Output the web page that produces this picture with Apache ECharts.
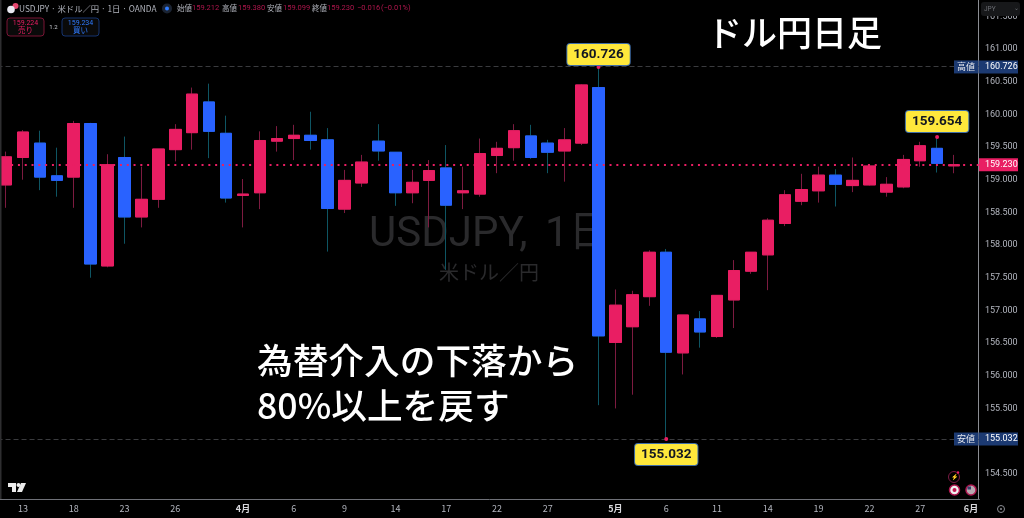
<!DOCTYPE html>
<html>
<head>
<meta charset="utf-8">
<style>
  html, body { margin: 0; padding: 0; background: #000; }
  #main { width: 1024px; height: 518px; }
</style>
<script src="https://cdn.jsdelivr.net/npm/echarts@6/dist/echarts.min.js"></script>
</head>
<body>
<div id="main"></div>
<script>
// one label per daily bar, the last slot has no bar yet
const dayLabels = ['', '13', '', '', '18', '', '', '23', '', '', '26', '', '', '', '4月', '', '', '6', '', '', '9', '', '', '14', '', '', '17', '', '', '22', '', '', '27', '', '', '', '5月', '', '', '6', '', '', '11', '', '', '14', '', '', '19', '', '', '22', '', '', '27', '', '', '6月'];

const opens = [158.92, 159.34, 159.56, 159.06, 159.04, 159.86, 157.68, 159.34, 158.43, 158.70, 159.46, 159.72, 160.19, 159.71, 158.76, 158.80, 159.59, 159.63, 159.68, 159.61, 158.55, 158.95, 159.59, 159.42, 158.80, 158.99, 159.18, 158.80, 158.78, 159.37, 159.49, 159.67, 159.56, 159.44, 159.56, 160.41, 156.51, 156.75, 157.21, 157.89, 156.35, 156.87, 156.60, 157.16, 157.60, 157.85, 158.33, 158.67, 158.83, 159.07, 158.91, 158.92, 158.81, 158.89, 159.29, 159.48, 159.212];
const closes = [159.35, 159.73, 159.04, 158.99, 159.86, 157.71, 159.23, 158.43, 158.70, 159.47, 159.77, 160.31, 159.74, 158.72, 158.78, 159.60, 159.63, 159.68, 159.60, 158.56, 158.99, 159.27, 159.44, 158.80, 158.96, 159.14, 158.61, 158.83, 159.40, 159.48, 159.75, 159.34, 159.42, 159.61, 160.45, 156.61, 157.08, 157.24, 157.89, 156.36, 156.93, 156.67, 157.23, 157.61, 157.89, 158.38, 158.77, 158.85, 159.07, 158.93, 158.99, 159.21, 158.93, 159.31, 159.52, 159.25, 159.230];
const highs = [159.43, 159.76, 159.75, 159.49, 159.90, 159.87, 159.39, 159.66, 159.20, 159.47, 159.85, 160.41, 160.47, 159.98, 159.01, 159.74, 159.82, 159.84, 160.04, 159.79, 159.15, 159.38, 159.85, 159.42, 159.15, 159.30, 159.53, 159.20, 159.63, 159.58, 159.85, 159.84, 159.61, 159.79, 160.46, 160.726, 157.32, 157.30, 157.92, 157.94, 156.93, 156.99, 157.23, 157.77, 157.89, 158.41, 158.84, 159.09, 159.20, 159.16, 159.34, 159.24, 159.04, 159.38, 159.58, 159.654, 159.380];
const lows = [158.57, 159.00, 158.84, 158.74, 158.57, 157.50, 157.66, 158.02, 158.27, 158.57, 159.28, 159.46, 159.33, 158.65, 158.27, 158.55, 159.43, 159.30, 159.46, 157.90, 158.49, 158.89, 159.29, 158.60, 158.64, 158.27, 157.62, 158.55, 158.74, 159.10, 159.29, 159.32, 159.10, 158.97, 159.53, 155.55, 155.50, 155.71, 157.07, 155.032, 156.02, 156.43, 156.58, 156.73, 157.56, 157.31, 158.29, 158.61, 158.65, 158.59, 158.81, 158.91, 158.74, 158.87, 159.20, 159.11, 159.099];

const priceTicks = [154.5, 155, 155.5, 156, 156.5, 157, 157.5, 158, 158.5, 159, 159.5, 160, 160.5, 161, 161.5];
const highPrice = 160.726;
const lowPrice = 155.032;
const lastPrice = 159.23;
const recentHigh = 159.654;

const PINK = '#E91E63';
const BLUE = '#2962FF';
const NAVY = '#1c3a72';
const GREY = '#b2b5be';
const JP = '"Noto Sans CJK JP", sans-serif';

// wicks are darker than the bodies, so they get their own series underneath
const wickData = opens.map((o, i) => [o, closes[i], lows[i], highs[i]]);
const bodyData = opens.map((o, i) => [o, closes[i], Math.min(o, closes[i]), Math.max(o, closes[i])]);

const calloutLabel = (pos, dist) => ({
  show: true,
  position: pos,
  distance: dist,
  formatter: (p) => p.value.toFixed(3),
  backgroundColor: '#FFE83B',
  borderColor: '#3f6ea8',
  borderWidth: 1,
  borderRadius: 3,
  padding: [4, 6, 3, 6],
  color: '#131722',
  fontFamily: 'Roboto',
  fontWeight: 700,
  fontSize: 13.5,
  lineHeight: 14
});

var myChart = echarts.init(document.getElementById('main'));

var option = {
  animation: false,
  backgroundColor: '#000',
  // first bar is cut by the left edge, so the grid starts off the canvas
  grid: { left: -2.46, top: 0, width: 981.9, height: 499, outerBoundsMode: 'none' },
  xAxis: {
    type: 'category',
    data: dayLabels,
    boundaryGap: true,
    axisLine: { lineStyle: { color: '#6f7178', width: 1 } },
    axisTick: { show: false },
    splitLine: { show: false },
    axisLabel: {
      interval: 0,
      margin: 5,
      color: GREY,
      fontFamily: JP,
      fontSize: 9,
      formatter: (v) => v.includes('月') ? '{m|' + v + '}' : v,
      rich: { m: { color: '#d8d8dc', fontFamily: JP, fontSize: 9, fontWeight: 700 } }
    }
  },
  yAxis: {
    type: 'value',
    position: 'right',
    offset: -1,
    min: 154.114,
    max: 161.75,
    scale: true,
    axisLine: { show: true, lineStyle: { color: '#8b8d93', width: 1 } },
    axisTick: { show: false },
    splitLine: { show: false },
    axisLabel: {
      customValues: priceTicks,
      margin: 6.5,
      color: GREY,
      fontFamily: 'Roboto',
      fontSize: 9,
      formatter: (v) => v.toFixed(3)
    }
  },
  series: [
    {
      name: 'wick',
      type: 'candlestick',
      barWidth: 12,
      data: wickData,
      itemStyle: {
        color: '#7d1b40', color0: '#0e5563',
        borderColor: '#7d1b40', borderColor0: '#0e5563', borderColorDoji: '#7d1b40',
        borderWidth: 1
      }
    },
    {
      name: 'body',
      type: 'candlestick',
      barWidth: 12,
      data: bodyData,
      itemStyle: {
        color: PINK, color0: BLUE,
        borderColor: PINK, borderColor0: BLUE, borderColorDoji: PINK,
        borderWidth: 1
      },
      markLine: {
        silent: true,
        symbol: 'none',
        label: { show: false },
        data: [
          { yAxis: highPrice, lineStyle: { color: '#3a3b3e', width: 1, type: [5, 3] } },
          { yAxis: lowPrice, lineStyle: { color: '#3a3b3e', width: 1, type: [5, 3] } },
          { yAxis: lastPrice, lineStyle: { color: PINK, width: 2, type: [2, 4.8] } }
        ]
      },
      markPoint: {
        silent: true,
        symbol: 'circle',
        symbolSize: 4,
        itemStyle: { color: PINK },
        data: [
          { coord: [35, highPrice], value: highPrice, label: calloutLabel('top', 0) },
          { coord: [55, recentHigh], value: recentHigh, label: calloutLabel('top', 3) },
          { coord: [39, lowPrice], value: lowPrice, label: calloutLabel('bottom', 3) }
        ]
      }
    }
  ]
};

myChart.setOption(option);

const priceY = (p) => myChart.convertToPixel({ yAxisIndex: 0 }, p);

function txt(text, x, y, size, fill, extra, z) {
  return {
    type: 'text', z: z === undefined ? 100 : z, silent: true,
    style: Object.assign({ text, x, y, fill, fontSize: size, fontFamily: JP, textAlign: 'left', textVerticalAlign: 'middle' }, extra || {})
  };
}
function box(x, y, w, h, fill, stroke, r) {
  return {
    type: 'rect', z: 99, silent: true,
    shape: { x, y, width: w, height: h, r: r || 0 },
    style: { fill, stroke: stroke || 'none', lineWidth: 1 }
  };
}
function circle(cx, cy, r, fill, stroke, lw) {
  return {
    type: 'circle', z: 99, silent: true,
    shape: { cx, cy, r },
    style: { fill, stroke: stroke || 'none', lineWidth: lw || 1 }
  };
}
function poly(points, fill) {
  return { type: 'polygon', z: 99, silent: true, shape: { points }, style: { fill } };
}
function priceBadge(p, fill, tag) {
  const y = priceY(p);
  const parts = [
    box(979, y - 6.5, 39, 13, fill),
    txt(p.toFixed(3), 985, y, 9, '#fff', { fontFamily: 'Roboto' })
  ];
  if (tag) {
    parts.push(box(954, y - 6.5, 24.5, 13, fill));
    parts.push(txt(tag, 957, y, 9, '#e4e6ec'));
  }
  return parts;
}

const ohlc = [
  ['始値', 177, GREY], ['159.212', 192, '#b0164d'],
  ['高値', 222, GREY], ['159.380', 238, '#b0164d'],
  ['安値', 267, GREY], ['159.099', 283, '#b0164d'],
  ['終値', 312, GREY], ['159.230', 327, '#b0164d'],
  ['−0.016', 357, '#b0164d'], ['(−0.01%)', 381, '#b0164d']
];

myChart.setOption({
  graphic: [
    // watermark goes under the candles
    txt('USDJPY,', 369, 235, 42, '#2a2a2c', { fontFamily: 'Roboto' }, 0),
    txt('1日', 545, 235, 42, '#2a2a2c', { fontFamily: 'Roboto, "Noto Sans CJK JP"' }, 0),
    txt('米ドル／円', 439, 272, 20, '#2a2a2c', null, 0),
    box(0, 0, 1.5, 499, '#2e2e30'),

    // header
    circle(15.5, 6, 3, '#e5476f'),
    circle(11, 9.5, 3.8, '#e8e8f0'),
    txt('USDJPY · 米ドル／円 · 1日 · OANDA', 19, 8.5, 8.3, GREY),
    circle(167, 8.5, 5, '#1b2433'),
    circle(167, 8.5, 2, '#2f7bff'),
    ...ohlc.map(([t, x, c]) => txt(t, x, 8.5, 7.5, c, t.length > 2 ? { fontFamily: 'Roboto' } : {})),

    // sell / buy buttons
    box(7, 18, 37, 18, '#0a0a0a', '#7a1535', 3),
    txt('159.224', 25.5, 23, 7, PINK, { textAlign: 'center', fontFamily: 'Roboto' }),
    txt('売り', 25.5, 30.5, 7.5, PINK, { textAlign: 'center' }),
    txt('1.2', 53.5, 27, 6, '#c9cbd1', { textAlign: 'center', fontFamily: 'Roboto' }),
    box(62, 18, 37, 18, '#0a0a0a', '#15336e', 3),
    txt('159.234', 80.5, 23, 7, '#2f7bff', { textAlign: 'center', fontFamily: 'Roboto' }),
    txt('買い', 80.5, 30.5, 7.5, '#2f7bff', { textAlign: 'center' }),

    // titles
    txt('ドル円日足', 707, 33, 35, '#fff', { fontWeight: 500 }),
    txt('為替介入の下落から', 257, 360, 35.7, '#fff', { fontWeight: 500 }),
    txt('80%以上を戻す', 257, 405, 35.7, '#fff', { fontWeight: 500 }),

    // price scale badges
    box(981, 2, 39, 14, '#17181a', null, 3),
    txt('JPY', 984, 9, 6.5, '#6d6f75', { fontFamily: 'Roboto' }),
    txt('⌄', 1014, 8, 6, '#6d6f75'),
    ...priceBadge(highPrice, NAVY, '高値'),
    ...priceBadge(lowPrice, NAVY, '安値'),
    ...priceBadge(lastPrice, PINK),

    // TradingView mark
    poly([[8, 483], [16, 483], [16, 492], [12, 492], [12, 487], [8, 487]], '#ececec'),
    circle(18.5, 485, 2, '#ececec'),
    poly([[21, 483], [26, 483], [22, 492], [17, 492]], '#ececec'),

    // small icons bottom right
    circle(954, 477, 5.5, 'none', '#7a1b45', 1),
    txt('⚡', 954, 477, 6, '#7a7c82', { textAlign: 'center' }),
    circle(958, 472.5, 1.2, PINK),
    circle(954.5, 490, 5, '#f0f0f0', '#b01750', 1.5),
    circle(954.5, 490, 2, '#c2154f'),
    circle(971, 490, 5, '#b8a8b0', '#b01750', 1.5),
    box(967.5, 486.5, 3.5, 3, '#34406a'),
    circle(1001, 509, 3.5, 'none', '#8b8d93', 1),
    circle(1001, 509, 1, '#8b8d93')
  ]
});
</script>
</body>
</html>
